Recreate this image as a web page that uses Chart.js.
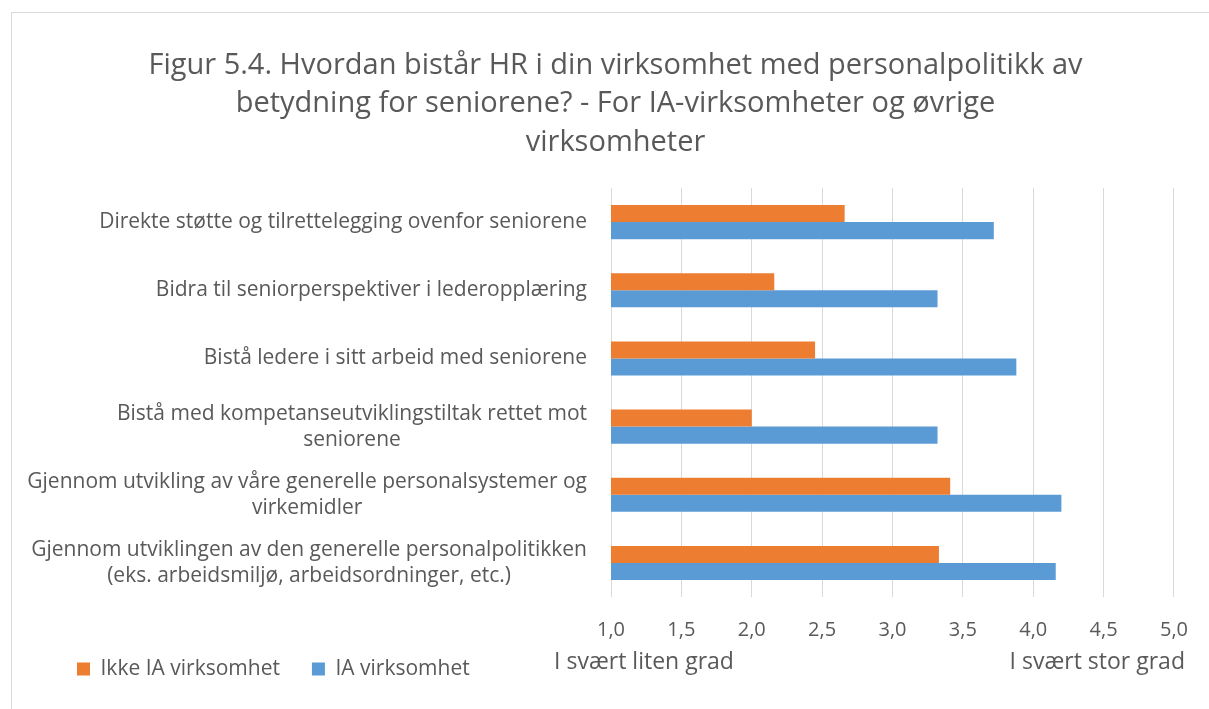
<!DOCTYPE html>
<html><head><meta charset="utf-8">
<script src="https://cdn.jsdelivr.net/npm/chart.js@4/dist/chart.umd.min.js"></script>
<style>
html,body{margin:0;padding:0;background:#fff;}
#wrap{position:relative;width:1209px;height:709px;overflow:hidden;}
#frame{position:absolute;left:11px;top:12px;width:1300px;height:800px;border-left:1px solid #d9d9d9;border-top:1px solid #d9d9d9;}
canvas{position:absolute;left:0;top:0;}
</style></head><body>
<div id="wrap"><div id="frame"></div><canvas id="c" width="1209" height="709"></canvas></div>
<script>
const titleLines = ['Figur 5.4. Hvordan bistår HR i din virksomhet med personalpolitikk av','betydning for seniorene? - For IA-virksomheter og øvrige','virksomheter'];
const categories = [
  ['Direkte støtte og tilrettelegging ovenfor seniorene'],
  ['Bidra til seniorperspektiver i lederopplæring'],
  ['Bistå ledere i sitt arbeid med seniorene'],
  ['Bistå med kompetanseutviklingstiltak rettet mot','seniorene'],
  ['Gjennom utvikling av våre generelle personalsystemer og','virkemidler'],
  ['Gjennom utviklingen av den generelle personalpolitikken','(eks. arbeidsmiljø, arbeidsordninger, etc.)']
];
const seriesNames = ['Ikke IA virksomhet','IA virksomhet'];
const ikkeIA = [2.66, 2.16, 2.45, 2.00, 3.41, 3.33];
const ia = [3.72, 3.32, 3.88, 3.32, 4.20, 4.16];
const xTickLabels = ['1,0','1,5','2,0','2,5','3,0','3,5','4,0','4,5','5,0'];
const scaleEndLabels = ['I svært liten grad','I svært stor grad'];

const FONT = '"Open Sans", Lato, sans-serif';
const TXT = '#595959';
const LEG_PAD = 32, LEG_FONT = 21;

const customText = {
  id: 'customText',
  afterDraw(chart) {
    const ctx = chart.ctx, ys = chart.scales.y, xs = chart.scales.x;
    const right = chart.chartArea.left - 24;
    ctx.save();
    ctx.fillStyle = TXT;
    ctx.textBaseline = 'middle';
    ctx.textAlign = 'center';
    ctx.font = '21px ' + FONT;
    categories.forEach((lines, i) => {
      const maxW = Math.max(...lines.map(l => ctx.measureText(l).width));
      const cx = right - maxW / 2;
      const yc = ys.getPixelForValue(i);
      lines.forEach((l, j) => ctx.fillText(l, cx, yc + (j - (lines.length - 1) / 2) * 26));
    });
    ctx.font = '23px ' + FONT;
    const yb = 662;
    ctx.textAlign = 'center';
    ctx.fillText(scaleEndLabels[0], xs.getPixelForValue(1) + 33, yb);
    ctx.textAlign = 'right';
    ctx.fillText(scaleEndLabels[1], xs.getPixelForValue(5) + 11, yb);
    ctx.restore();
  },
  afterLayout(chart) {
    const lg = chart.legend;
    if (lg) {
      const h = lg.bottom - lg.top;
      lg.top = 669 - LEG_PAD - LEG_FONT / 2;
      lg.bottom = lg.top + h;
      lg.left += 45; lg.right += 45;
    }
    const tb = chart.titleBlock;
    if (tb) { tb.left += 27; tb.right += 27; }
  }
};

new Chart(document.getElementById('c'), {
  type: 'bar',
  data: {
    labels: categories.map(c => c.join(' ')),
    datasets: [
      { label: seriesNames[0], data: ikkeIA, backgroundColor: '#ED7D31', borderWidth: 0 },
      { label: seriesNames[1], data: ia, backgroundColor: '#5B9BD5', borderWidth: 0 }
    ]
  },
  options: {
    indexAxis: 'y',
    responsive: false,
    animation: false,
    layout: { padding: { left: 0, right: 32, top: 0, bottom: -17 } },
    datasets: { bar: { categoryPercentage: 0.5, barPercentage: 1.0 } },
    scales: {
      x: {
        min: 1, max: 5,
        ticks: { stepSize: 0.5, padding: 21, color: TXT, font: { size: 20, family: FONT },
                 callback: (v, i) => xTickLabels[i] },
        grid: { color: '#d9d9d9', lineWidth: 1, drawTicks: false },
        border: { display: false }
      },
      y: {
        ticks: { display: false },
        grid: { display: false },
        border: { display: false },
        afterFit: (s) => { s.width = 611; }
      }
    },
    plugins: {
      title: {
        display: true, text: titleLines, color: TXT,
        font: { size: 29, family: FONT, weight: 'normal', lineHeight: '38.5px' },
        padding: { top: 46, bottom: 26.5 }
      },
      legend: {
        position: 'bottom', align: 'start',
        labels: { boxWidth: 13, boxHeight: 13, padding: LEG_PAD, color: TXT, font: { size: LEG_FONT, family: FONT } }
      },
      tooltip: { enabled: false }
    }
  },
  plugins: [customText]
});
</script>
</body></html>
